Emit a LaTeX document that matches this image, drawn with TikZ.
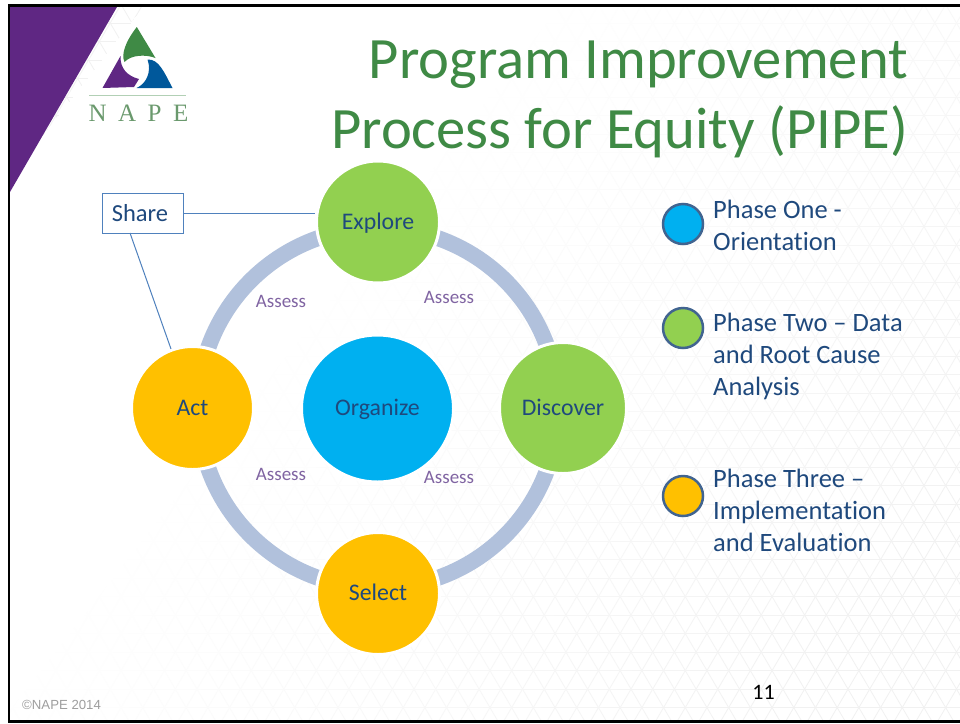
\documentclass[tikz,border=0pt]{standalone}
\usepackage{fontspec}
\setmainfont[Ligatures=NoCommon]{Carlito}
\newfontfamily\serifnape{Liberation Serif}
\newfontfamily\sansnape{Liberation Sans}
\usetikzlibrary{shapes.geometric,fadings}
\definecolor{txtblue}{HTML}{1F497D}
\definecolor{napegreen}{HTML}{3F8A45}
\definecolor{napepurple}{HTML}{5F2783}
\definecolor{napeblue}{HTML}{00589B}
\definecolor{ringblue}{HTML}{B1C1DC}
\definecolor{cblue}{HTML}{00B0F0}
\definecolor{cgreen}{HTML}{92D050}
\definecolor{corange}{HTML}{FFC000}
\definecolor{linkblue}{HTML}{4F81BD}
\definecolor{assess}{HTML}{8064A2}
\definecolor{latt}{HTML}{F1F1F1}
\tikzfading[name=bgfade,left color=transparent!0,right color=transparent!100]
\tikzset{
  bubble/.style={ellipse,draw=white,line width=3pt,inner sep=0pt,text=txtblue,text height=14pt,text depth=0pt,font=\fontsize{23.8}{27}\selectfont},
  ringarc/.style={draw=ringblue,line width=16pt},
  legenddot/.style={circle,draw=txtblue!85!white,line width=2.5pt,minimum size=40pt,inner sep=0pt},
  legendtext/.style={text=txtblue,font=\fontsize{26.5}{32}\selectfont,align=left,anchor=north west,inner sep=0pt},
  assesslabel/.style={text=assess,font=\fontsize{19}{22}\selectfont,inner sep=0pt},
  linkline/.style={draw=linkblue,line width=1pt},
  titletext/.style={text=napegreen,font=\fontsize{58.6}{70}\selectfont,align=right,anchor=north east,inner sep=0pt}
}
\begin{document}
\begin{tikzpicture}[x=1pt,y=-1pt]
\useasboundingbox (0,0) rectangle (960,723);
\fill[white] (0,0) rectangle (960,723);
% faint lattice background
\begin{scope}
\clip (10,7) rectangle (960,720);
\foreach \k in {-60,...,30}{
  \draw[latt,line width=.8pt] (487.3+\k*21.7,0) -- ++(424,723);
}
\foreach \k in {-40,...,50}{
  \draw[latt,line width=.8pt] (1208.7-\k*21.7,0) -- ++(-424,723);
}
\foreach \k in {-33,...,5}{
  \draw[latt,line width=.6pt] (0,615+\k*18.5) -- (960,615+\k*18.5);
}
\end{scope}
\fill[white,path fading=bgfade,fit fading=false,fading transform={shift={(640,430)},rotate=-38,scale=13}] (-10,-10) rectangle (970,733);
% frame and corner
\fill[napepurple] (10,7) -- (117,7) -- (10,192) -- cycle;
\draw[black,line width=2.3pt] (960,5.6) -- (8.8,5.6) -- (8.8,721.6) -- (960,721.6);
% logo
\fill[napegreen] (136.8,27) -- (155.5,58) .. controls (145,54) and (131,55) .. (124.5,62) .. controls (121,55) and (125,42) .. cycle;
\fill[napepurple] (120.5,56) .. controls (120,68) and (127,76) .. (139,79) .. controls (137,82) and (136,84) .. (134,87) -- (102.5,88) -- cycle;
\fill[napeblue] (147.5,59.5) .. controls (159,59) and (164,72) .. (172.5,88) -- (136.5,88) .. controls (146,84) and (152,72) .. cycle;
\draw[draw=napegreen!40!white,line width=1pt] (89,95) -- (186,95);
\node[inner sep=0pt,text=napegreen!75!gray!85!white,font=\serifnape\fontsize{25}{25}\selectfont] (napeword) at (138.5,113.5) {\makebox[100pt][s]{N\hfil A\hfil P\hfil E}};
% title
\node[titletext] (title) at (908,41) {Program Improvement\\Process for Equity (PIPE)};
% ring arcs
\coordinate (rt) at (378,228);
\coordinate (rr) at (558,408);
\coordinate (rb) at (378,588);
\coordinate (rl) at (198,408);
\draw[ringarc] (rt) to[out=0,in=90] (rr);
\draw[ringarc] (rr) to[out=-90,in=0] (rb);
\draw[ringarc] (rb) to[out=180,in=-90] (rl);
\draw[ringarc] (rl) to[out=90,in=180] (rt);
% bubbles
\node[bubble,fill=cgreen,minimum width=123pt,minimum height=122pt] (explore) at (378,222) {Explore};
\node[bubble,fill=cgreen,minimum width=127pt,minimum height=131pt] (discover) at (563,408) {Discover};
\node[bubble,fill=corange,minimum width=123pt,minimum height=122pt] (select) at (378,593.5) {Select};
\node[bubble,fill=corange,minimum width=122pt,minimum height=123pt] (act) at (192.5,408) {Act};
\node[bubble,fill=cblue,minimum width=152pt,minimum height=147pt] (organize) at (377.5,408.5) {Organize};
% assess
\node[assesslabel] (as1) at (281,301) {Assess};
\node[assesslabel] (as2) at (449,297) {Assess};
\node[assesslabel] (as3) at (281,474) {Assess};
\node[assesslabel] (as4) at (449,477) {Assess};
% share
\node[draw=linkblue,line width=1pt,fill=white,minimum width=81pt,minimum height=40pt,inner sep=0pt,text=txtblue,font=\fontsize{24.5}{27}\selectfont] (share) at (142.5,213) {\hspace*{-5pt}Share};
\coordinate (shareleg) at (130,233);
\draw[linkline] (share.east) -- (explore.west |- share.east);
\draw[linkline] (shareleg) -- (act.110);
% legend
\node[legenddot,fill=cblue] (d1) at (683,224) {};
\node[legenddot,fill=cgreen] (d2) at (683,328) {};
\node[legenddot,fill=corange] (d3) at (683,496) {};
\node[legendtext] (t1) at (713,200) {Phase One -\\Orientation};
\node[legendtext] (t2) at (713,313) {Phase Two – Data\\and Root Cause\\Analysis};
\node[legendtext] (t3) at (713,469) {Phase Three –\\Implementation\\and Evaluation};
% footer
\node[inner sep=0pt,text=black,font=\fontsize{22}{26}\selectfont] (pagenum) at (763.5,692) {11};
\node[inner sep=0pt,text=black!38,font=\sansnape\fontsize{13.2}{16}\selectfont,anchor=west] (copy) at (22,705) {©NAPE 2014};
\end{tikzpicture}
\end{document}
